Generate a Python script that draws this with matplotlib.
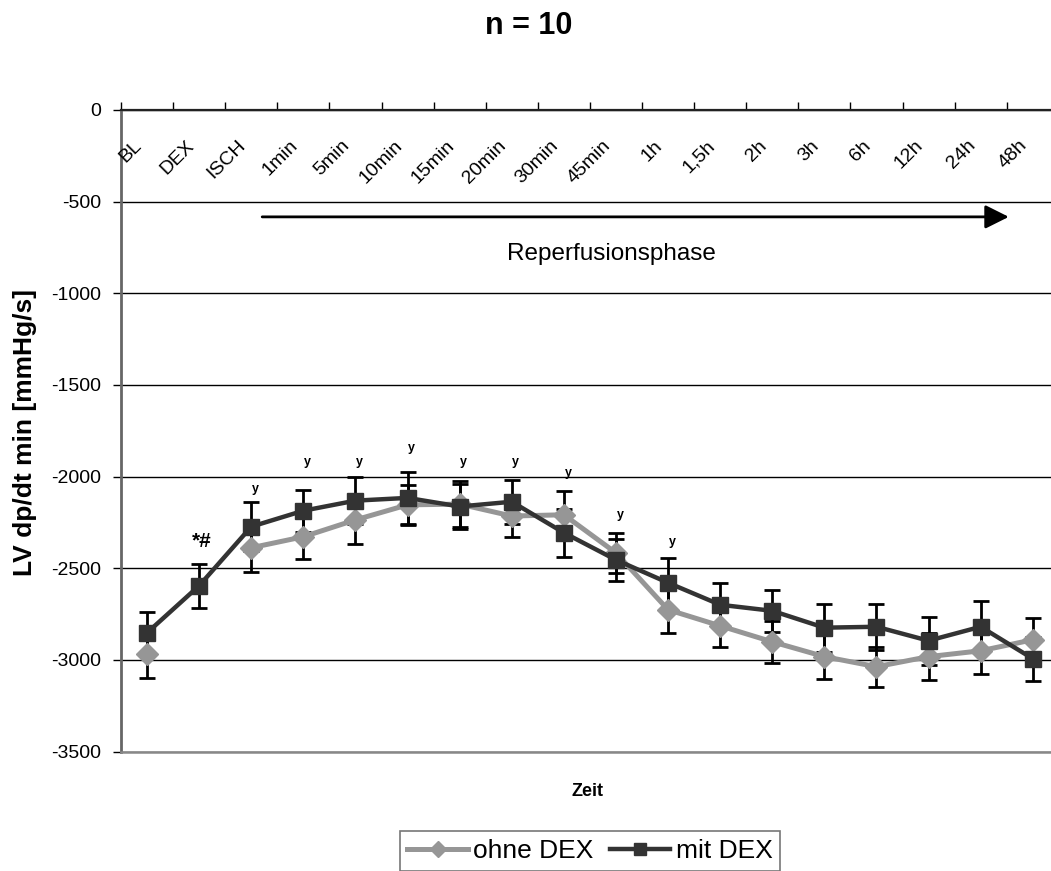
import numpy as np
import matplotlib
matplotlib.use("Agg")
import matplotlib.pyplot as plt
from matplotlib.transforms import ScaledTranslation

plt.rcParams['font.family'] = ['Liberation Sans', 'DejaVu Sans']
plt.rcParams['axes.unicode_minus'] = False

# data
zeitpunkte = ['BL', 'DEX', 'ISCH', '1min', '5min', '10min', '15min', '20min', '30min',
              '45min', '1h', '1,5h', '2h', '3h', '6h', '12h', '24h', '48h']
ohne_dex = [-2966, np.nan, -2388, -2328, -2236, -2154, -2150, -2215, -2208,
            -2416, -2726, -2814, -2901, -2982, -3037, -2982, -2950, -2890]
ohne_dex_err = [130, np.nan, 130, 120, 130, 110, 125, 115, 130,
                110, 126, 114, 114, 120, 110, 130, 125, 120]
mit_dex = [-2852, -2595, -2273, -2186, -2131, -2116, -2163, -2137, -2306,
           -2454, -2579, -2699, -2732, -2824, -2819, -2895, -2819, -2993]
mit_dex_err = [115, 120, 135, 115, 130, 140, 125, 120, 130,
               115, 136, 120, 115, 130, 125, 130, 140, 120]
# significance marks: category index and height
sig_idx = [2, 3, 4, 5, 6, 7, 8, 9, 10]
sig_y = [-2066, -1919, -1919, -1843, -1919, -1919, -1979, -2208, -2355]

x = np.arange(len(zeitpunkte))

fig = plt.figure(figsize=(10.51, 8.71), dpi=100)
W, H = 1051, 871
ax = fig.add_axes([121 / W, 1 - 751.6 / H, 937.8 / W, 641.6 / H])
ax.set_xlim(-0.5, len(zeitpunkte) - 0.5)
ax.set_ylim(-3500, 0)

# error bars behind the lines
ax.errorbar(x, ohne_dex, yerr=ohne_dex_err, fmt='none', ecolor='black',
            elinewidth=2, capsize=6, capthick=2, zorder=2)
ax.errorbar(x, mit_dex, yerr=mit_dex_err, fmt='none', ecolor='black',
            elinewidth=2, capsize=6, capthick=2, zorder=2)
ax.plot(x, ohne_dex, color='#969696', lw=3.6, marker='D', markersize=11.5,
        label='ohne DEX', zorder=3)
ax.plot(x, mit_dex, color='#333333', lw=3.2, marker='s', markersize=12,
        label='mit DEX', zorder=4)

# axes styling
ax.set_yticks(np.arange(-3500, 1, 500))
ax.tick_params(axis='y', direction='out', length=6, width=1, labelsize=14, pad=8)
ax.yaxis.grid(True, color='black', lw=1)
ax.set_axisbelow(True)
ax.set_xticks(np.arange(-0.5, len(zeitpunkte), 1))
ax.tick_params(axis='x', top=True, bottom=False, labeltop=False, labelbottom=False,
               direction='out', length=6, width=1)
ax.spines['top'].set_color('#222222')
ax.spines['top'].set_linewidth(1.6)
ax.spines['left'].set_color('#666666')
ax.spines['left'].set_linewidth(2)
ax.spines['bottom'].set_color('#888888')
ax.spines['bottom'].set_linewidth(1.8)
ax.spines['right'].set_visible(False)

# category labels inside plot under the top axis
off = ScaledTranslation(-14 / 100, -27 / 100, fig.dpi_scale_trans)
for i, lab in enumerate(zeitpunkte):
    ax.text(i, 0, lab, transform=ax.transData + off, rotation=45,
            rotation_mode='anchor', ha='right', va='top', fontsize=14)

# significance marks
for i, yv in zip(sig_idx, sig_y):
    ax.text(i + 0.08, yv, 'y', ha='center', va='center', fontsize=9,
            fontweight='bold')
ax.text(1.05, -2355, '*#', ha='center', va='center', fontsize=15, fontweight='bold')

# reperfusion arrow
ax.annotate('', xy=(16.54, -583), xytext=(2.21, -583),
            arrowprops=dict(arrowstyle='-|>,head_length=0.72,head_width=0.36',
                            mutation_scale=20, lw=2, color='black',
                            shrinkA=0, shrinkB=0))
ax.text(8.92, -785, 'Reperfusionsphase', ha='center', va='center', fontsize=17.5)

fig.text(529 / W, 1 - 26 / H, 'n = 10', ha='center', va='center',
         fontsize=22, fontweight='bold')
fig.text(25 / W, 1 - 433 / H, 'LV dp/dt min [mmHg/s]', rotation=90,
         ha='center', va='center', fontsize=19, fontweight='bold')
fig.text(588 / W, 1 - 791 / H, 'Zeit', ha='center', va='center',
         fontsize=13, fontweight='bold')

leg = fig.legend(loc='upper center', bbox_to_anchor=(590 / W, 1 - 831 / H), ncol=2,
                 fontsize=19, frameon=True, fancybox=False, edgecolor='#555555',
                 handlelength=2.3, handletextpad=0.2, columnspacing=0.6,
                 borderpad=0.3, borderaxespad=0, markerscale=0.75, numpoints=1)
leg.get_frame().set_linewidth(1.2)

fig.savefig('out.png', dpi=100)
